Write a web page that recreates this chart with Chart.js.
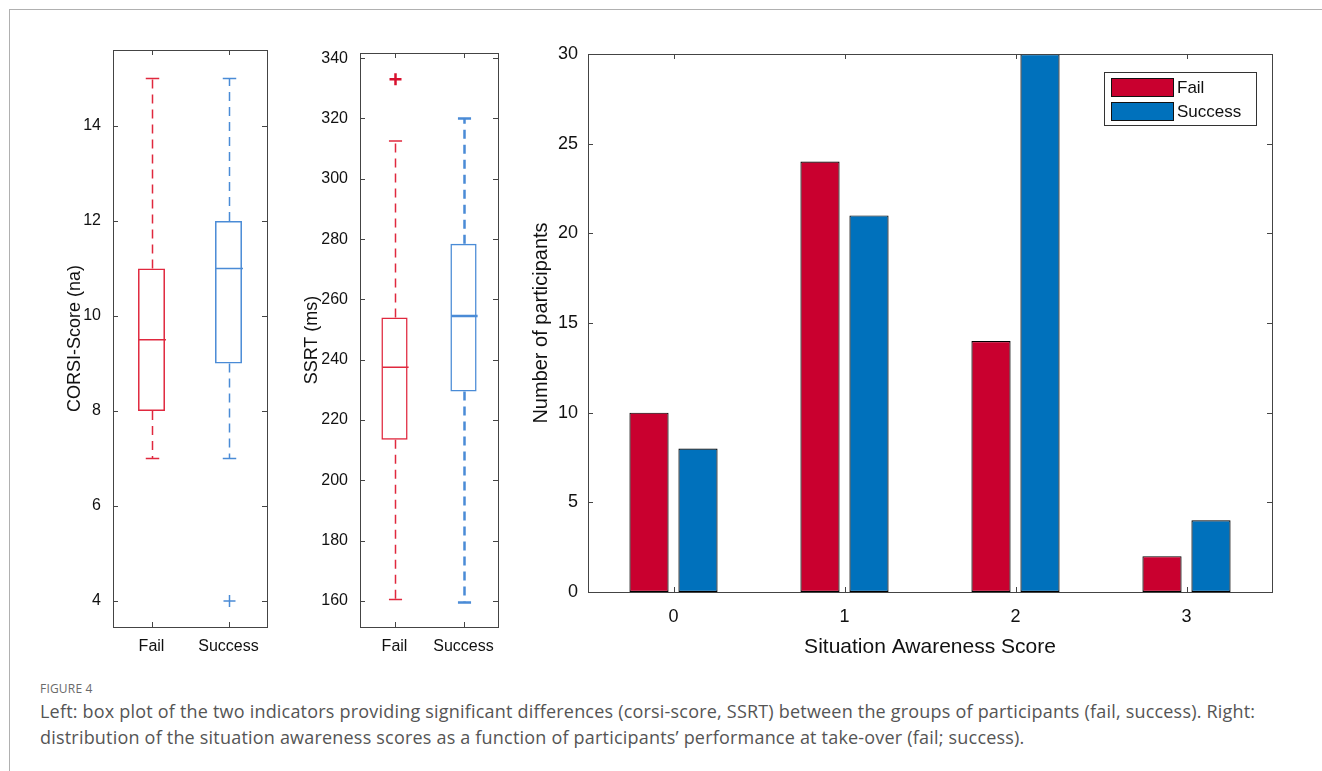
<!DOCTYPE html>
<html>
<head>
<meta charset="utf-8">
<script src="https://cdn.jsdelivr.net/npm/chart.js@4.4.1/dist/chart.umd.min.js"></script>
<style>
  body { margin: 0; background: #fff; width: 1322px; height: 771px; position: relative; overflow: hidden; font-family: "Liberation Sans", Arial, sans-serif; }
  .frame { position: absolute; left: 9px; top: 9px; right: -2px; bottom: -2px; border-top: 1px solid #b0b0b0; border-left: 1px solid #b0b0b0; }
  .box { position: absolute; }
  .cap-title { position: absolute; left: 40px; top: 680px; font-family: "Open Sans", sans-serif; font-size: 12px; color: #6a6a6a; letter-spacing: 0.2px; }
  .cap-text { position: absolute; left: 40px; top: 698px; font-family: "Open Sans", sans-serif; font-size: 18px; letter-spacing: 0.2px; line-height: 26px; color: #555; white-space: nowrap; }
</style>
</head>
<body>
<div class="frame"></div>
<div class="box" style="left:60px;top:40px;width:215px;height:630px"><canvas id="corsiChart"></canvas></div>
<div class="box" style="left:297px;top:40px;width:209px;height:630px"><canvas id="ssrtChart"></canvas></div>
<div class="box" style="left:525px;top:40px;width:757px;height:624px"><canvas id="saChart"></canvas></div>
<div class="cap-title">FIGURE 4</div>
<div class="cap-text" id="capText">Left: box plot of the two indicators providing significant differences (corsi-score, SSRT) between the groups of participants (fail, success). Right:<br>distribution of the situation awareness scores as a function of participants’ performance at take-over (fail; success).</div>

<script>
// 그룹
const groups = ['Fail', 'Success'];
const boxColors = ['#e0283e', '#4a8bd6'];

// CORSI 점수 (q1, median, q3, whisker low/high, outliers)
const corsiQ1 = [8, 9];
const corsiMedian = [9.5, 11];
const corsiQ3 = [11, 12];
const corsiLow = [7, 7];
const corsiHigh = [15, 15];
const corsiOutliers = [[], [4]];
const corsiTicks = [4, 6, 8, 10, 12, 14];

// SSRT (ms)
const ssrtQ1 = [213.5, 229.5];
const ssrtMedian = [237.5, 254.5];
const ssrtQ3 = [254, 278.5];
const ssrtLow = [160.5, 159.5];
const ssrtHigh = [312.5, 320];
const ssrtOutliers = [[333], []];
const ssrtTicks = [160, 180, 200, 220, 240, 260, 280, 300, 320, 340];

// 상황 인식 점수 분포
const saScores = ['0', '1', '2', '3'];
const saFail = [10, 24, 14, 2];
const saSuccess = [8, 21, 30, 4];
const saTicks = [0, 5, 10, 15, 20, 25, 30];

const axisColor = '#444';
const tickFont = { family: '"Liberation Sans", Arial, sans-serif', size: 16 };

// MATLAB 스타일 축 상자 + 안쪽 눈금
const matlabAxes = {
    id: 'matlabAxes',
    afterDraw(chart) {
        const { ctx, chartArea: a, scales } = chart;
        ctx.save();
        ctx.strokeStyle = axisColor;
        ctx.lineWidth = 1;
        ctx.strokeRect(Math.round(a.left) + 0.5, Math.round(a.top) + 0.5, Math.round(a.right - a.left), Math.round(a.bottom - a.top));
        const len = 5;
        ctx.beginPath();
        scales.y.ticks.forEach(t => {
            const py = Math.round(scales.y.getPixelForValue(t.value)) + 0.5;
            ctx.moveTo(a.left, py); ctx.lineTo(a.left + len, py);
            ctx.moveTo(a.right, py); ctx.lineTo(a.right - len, py);
        });
        scales.x.ticks.forEach((t, i) => {
            const px = Math.round(scales.x.getPixelForTick(i)) + 0.5;
            ctx.moveTo(px, a.bottom); ctx.lineTo(px, a.bottom - len);
            ctx.moveTo(px, a.top); ctx.lineTo(px, a.top + len);
        });
        ctx.stroke();
        ctx.restore();
    }
};

// 수염, 중앙값, 이상치 그리기
const boxExtras = {
    id: 'boxExtras',
    afterDatasetsDraw(chart) {
        const st = chart.options.plugins.boxExtras;
        const { ctx, scales: { x, y } } = chart;
        const meta = chart.getDatasetMeta(0);
        ctx.save();
        ctx.lineWidth = 1.5;
        groups.forEach((g, i) => {
            const bar = meta.data[i];
            const cx = Math.round(x.getPixelForTick(i)) + 0.5;
            const half = bar.width / 2;
            const yMed = y.getPixelForValue(st.median[i]);
            const yQ1 = y.getPixelForValue(st.q1[i]);
            const yQ3 = y.getPixelForValue(st.q3[i]);
            const yLo = y.getPixelForValue(st.low[i]);
            const yHi = y.getPixelForValue(st.high[i]);
            ctx.strokeStyle = boxColors[i];
            // 중앙값
            ctx.setLineDash([]);
            ctx.beginPath();
            ctx.moveTo(cx - half, yMed); ctx.lineTo(cx + half, yMed);
            // 캡
            ctx.moveTo(cx - half / 2, yLo); ctx.lineTo(cx + half / 2, yLo);
            ctx.moveTo(cx - half / 2, yHi); ctx.lineTo(cx + half / 2, yHi);
            ctx.stroke();
            // 수염 (점선)
            ctx.setLineDash([9, 6]);
            ctx.beginPath();
            ctx.moveTo(cx, yQ3); ctx.lineTo(cx, yHi);
            ctx.moveTo(cx, yQ1); ctx.lineTo(cx, yLo);
            ctx.stroke();
            // 이상치
            ctx.setLineDash([]);
            st.outliers[i].forEach(v => {
                const py = y.getPixelForValue(v);
                ctx.strokeStyle = i === 0 ? '#d8102e' : boxColors[i];
                ctx.lineWidth = i === 0 ? 2.5 : 1.5;
                ctx.beginPath();
                ctx.moveTo(cx - 6, py); ctx.lineTo(cx + 6, py);
                ctx.moveTo(cx, py - 6); ctx.lineTo(cx, py + 6);
                ctx.stroke();
            });
        });
        ctx.restore();
    }
};

function createBoxChart(id, stats, yMin, yMax, ticks, title, yWidth, barPct, padTop) {
    return new Chart(document.getElementById(id), {
        type: 'bar',
        data: {
            labels: groups,
            datasets: [{
                data: groups.map((g, i) => [stats.q1[i], stats.q3[i]]),
                backgroundColor: 'rgba(0,0,0,0)',
                borderColor: boxColors,
                borderWidth: 1.5,
                borderSkipped: false,
                categoryPercentage: 1,
                barPercentage: barPct
            }]
        },
        options: {
            responsive: true,
            maintainAspectRatio: false,
            animation: false,
            layout: { padding: { top: padTop, right: 8, left: 0, bottom: 0 } },
            plugins: { legend: { display: false }, tooltip: { enabled: false }, boxExtras: stats },
            scales: {
                x: {
                    grid: { display: false, drawTicks: false },
                    border: { display: false },
                    ticks: { color: '#111', font: tickFont, padding: 10 },
                    afterFit: s => { s.height = 43; s.paddingLeft = 0; s.paddingRight = 0; }
                },
                y: {
                    min: yMin, max: yMax,
                    grid: { display: false, drawTicks: false },
                    border: { display: false },
                    afterBuildTicks: s => { s.ticks = ticks.map(v => ({ value: v })); },
                    ticks: { color: '#111', font: tickFont, padding: 12 },
                    title: { display: true, text: title, color: '#111', font: { family: tickFont.family, size: 18 } },
                    afterFit: s => { s.width = yWidth; s.paddingTop = 0; s.paddingBottom = 0; }
                }
            }
        },
        plugins: [boxExtras, matlabAxes]
    });
}

createBoxChart('corsiChart', {
    q1: corsiQ1, median: corsiMedian, q3: corsiQ3, low: corsiLow, high: corsiHigh, outliers: corsiOutliers
}, 3.45, 15.6, corsiTicks, 'CORSI-Score (na)', 53, 0.35, 10);

createBoxChart('ssrtChart', {
    q1: ssrtQ1, median: ssrtMedian, q3: ssrtQ3, low: ssrtLow, high: ssrtHigh, outliers: ssrtOutliers
}, 151.4, 341.7, ssrtTicks, 'SSRT (ms)', 63, 0.38, 13);

// 막대 차트
new Chart(document.getElementById('saChart'), {
    type: 'bar',
    data: {
        labels: saScores,
        datasets: [
            { label: 'Fail', data: saFail, backgroundColor: '#c9002f', borderColor: '#000', borderWidth: 1.2, borderSkipped: false, categoryPercentage: 0.573, barPercentage: 0.8 },
            { label: 'Success', data: saSuccess, backgroundColor: '#0071bc', borderColor: '#000', borderWidth: 1.2, borderSkipped: false, categoryPercentage: 0.573, barPercentage: 0.8 }
        ]
    },
    options: {
        responsive: true,
        maintainAspectRatio: false,
        animation: false,
        layout: { padding: { top: 14, right: 10, left: 0, bottom: 0 } },
        plugins: {
            legend: { display: false },
            tooltip: { enabled: false }
        },
        scales: {
            x: {
                grid: { display: false, drawTicks: false },
                border: { display: false },
                ticks: { color: '#111', font: { family: tickFont.family, size: 18 }, padding: 14 },
                title: { display: true, text: 'Situation Awareness Score', color: '#111', font: { family: tickFont.family, size: 21 } },
                afterFit: s => { s.height = 72; s.paddingLeft = 0; s.paddingRight = 0; }
            },
            y: {
                min: 0, max: 30,
                grid: { display: false, drawTicks: false },
                border: { display: false },
                afterBuildTicks: s => { s.ticks = saTicks.map(v => ({ value: v })); },
                ticks: { color: '#111', font: { family: tickFont.family, size: 18 }, padding: 10 },
                title: { display: true, text: 'Number of participants', color: '#111', font: { family: tickFont.family, size: 20 } },
                afterFit: s => { s.width = 63; s.paddingTop = 0; s.paddingBottom = 0; }
            }
        }
    },
    plugins: [matlabAxes, {
        // 범례 상자
        id: 'boxLegend',
        afterDraw(chart) {
            const { ctx, chartArea: a } = chart;
            const ds = chart.data.datasets;
            const bx = a.right - 168, by = a.top + 18, bw = 152, bh = 53;
            ctx.save();
            ctx.fillStyle = '#fff';
            ctx.fillRect(bx, by, bw, bh);
            ctx.strokeStyle = '#333';
            ctx.lineWidth = 1;
            ctx.strokeRect(bx + 0.5, by + 0.5, bw, bh);
            ctx.font = '17px "Liberation Sans", Arial, sans-serif';
            ctx.textBaseline = 'middle';
            ds.forEach((d, i) => {
                const ry = by + 6 + i * 24;
                ctx.fillStyle = d.backgroundColor;
                ctx.fillRect(bx + 7, ry, 62, 18);
                ctx.strokeStyle = '#111';
                ctx.strokeRect(bx + 7.5, ry + 0.5, 62, 18);
                ctx.fillStyle = '#111';
                ctx.fillText(d.label, bx + 73, ry + 10);
            });
            ctx.restore();
        }
    }]
});
</script>
</body>
</html>
